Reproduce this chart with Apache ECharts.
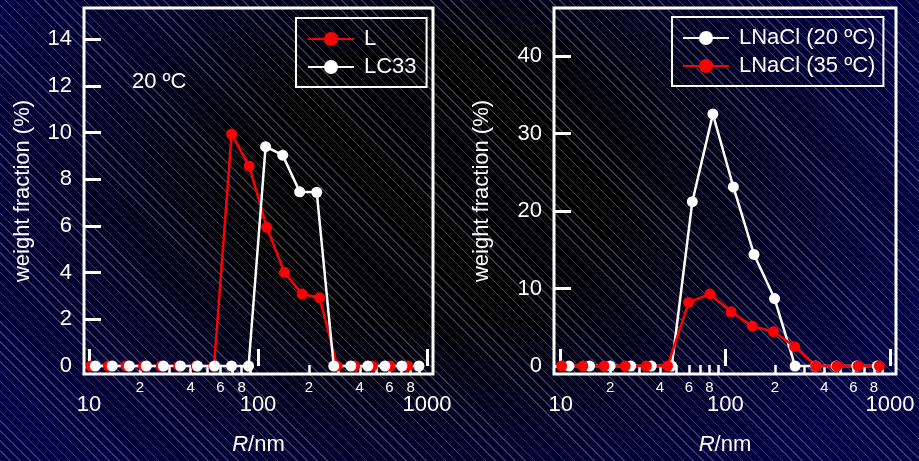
<!DOCTYPE html>
<html><head><meta charset="utf-8">
<script src="https://cdn.jsdelivr.net/npm/echarts@6/dist/echarts.min.js"></script>
<style>
html,body{margin:0;padding:0;width:919px;height:461px;overflow:hidden;}
body{background:
 repeating-linear-gradient(45deg, rgba(190,190,215,0.30) 0px, rgba(190,190,215,0.30) 1px, transparent 1px, transparent 7px),
 radial-gradient(ellipse 55% 80% at 47% 40%, #000 0%, #000 35%, #000028 70%, #000044 100%);}
#c{width:919px;height:461px;}
</style></head>
<body><div id="c"></div>
<script>
// ---- data (R in nm, weight fraction in %) ----
const rL    = [10.25,13.02,16.56,21.04,26.75,34.00,43.21,54.92,69.80,88.72,112.7,143.3,182.2,231.5,294.3,374.0,475.4,604.2,767.9];
const wL    = [0,0,0,0,0,0,0,0,9.93,8.56,5.94,4.01,3.08,2.92,0,0,0,0,0];
const rLC33 = [10.89,13.73,17.32,21.85,27.56,34.75,43.84,55.28,69.72,87.96,110.9,139.9,176.4,222.6,280.7,354.0,446.5,563.2,710.3,896.0];
const wLC33 = [0,0,0,0,0,0,0,0,0,0,9.39,9.03,7.46,7.44,0,0,0,0,0,0];
const r20   = [11.23,14.97,19.95,26.60,35.46,47.27,63.01,84.01,111.9,149.3,199.0,265.3,353.6,471.5,628.4,837.6];
const w20   = [0,0,0,0,0,0,21.2,32.5,23.1,14.4,8.7,0,0,0,0,0];
const r35   = [10.14,13.63,18.33,24.65,33.14,44.57,59.93,80.59,108.3,145.7,195.9,263.4,354.2,476.3,640.4,861.0];
const w35   = [0,0,0,0,0,0,8.2,9.3,7.0,5.15,4.45,2.5,0,0,0,0];
const majorTicks  = [10,100,1000];
const minorTicks  = [20,30,40,50,60,70,80,90,200,300,400,500,600,700,800,900];
const minorLabels = [20,40,60,80,200,400,600,800];
const yTicksLeft  = [0,2,4,6,8,10,12,14];
const yTicksRight = [0,10,20,30,40];
const nameL = 'L', nameLC33 = 'LC33', name20 = 'LNaCl (20 ºC)', name35 = 'LNaCl (35 ºC)';
const annot = '20 ºC';

const FF = "'Liberation Sans', Arial, Helvetica, sans-serif";
const W = '#ffffff', RED = '#ff0000';

function pairs(r, w){ return r.map((x,i)=>[x,w[i]]); }

function xMajor(g, mn, mx){
  return {type:'log', gridIndex:g, position:'bottom', min:mn, max:mx,
    axisLine:{show:false}, splitLine:{show:false},
    axisTick:{show:true, inside:true, length:17, customValues:majorTicks, lineStyle:{color:W, width:3}},
    axisLabel:{customValues:majorTicks, color:W, fontSize:22, fontFamily:FF, margin:20,
      formatter:v=>String(Math.round(v))},
    name:'{i|R}/nm', nameLocation:'middle', nameGap:60,
    nameTextStyle:{color:W, fontSize:22, fontFamily:FF, rich:{i:{fontStyle:'italic', color:W, fontSize:22, fontFamily:FF}}}
  };
}
function xMinor(g, mn, mx){
  return {type:'log', gridIndex:g, position:'bottom', offset:0, min:mn, max:mx,
    axisLine:{show:false}, splitLine:{show:false},
    axisTick:{show:true, inside:true, length:9, customValues:minorTicks, lineStyle:{color:W, width:2.5}},
    axisLabel:{customValues:minorLabels, color:W, fontSize:15, fontFamily:FF, margin:6,
      formatter:v=>String(Math.round(v)).charAt(0)}
  };
}
function yAx(g, mn, mx, ticks, gap){
  return {type:'value', gridIndex:g, min:mn, max:mx,
    axisLine:{show:false}, splitLine:{show:false},
    axisTick:{show:true, inside:true, length:17, customValues:ticks, lineStyle:{color:W, width:3}},
    axisLabel:{customValues:ticks, color:W, fontSize:22, fontFamily:FF, margin:12},
    name:'weight fraction (%)', nameLocation:'middle', nameGap:gap,
    nameTextStyle:{color:W, fontSize:22, fontFamily:FF}
  };
}
function ser(name, data, color, xi, yi){
  return {type:'line', name, data, xAxisIndex:xi, yAxisIndex:yi,
    symbol:'circle', symbolSize:11, showSymbol:true,
    lineStyle:{color, width:2.5}, itemStyle:{color}, emphasis:{disabled:true}, animation:false};
}

const chart = echarts.init(document.getElementById('c'), null, {renderer:'canvas'});
chart.setOption({
  backgroundColor:'transparent',
  animation:false,
  grid:[
    {left:84, top:8, width:349, height:366, show:true, borderColor:W, borderWidth:3, backgroundColor:'transparent', outerBoundsMode:'none', containLabel:false},
    {left:554, top:8, width:342, height:366, show:true, borderColor:W, borderWidth:3, backgroundColor:'transparent', outerBoundsMode:'none', containLabel:false}
  ],
  xAxis:[ xMajor(0, 9.342, 1085), xMinor(0, 9.342, 1085), xMajor(1, 9.107, 1087.5), xMinor(1, 9.107, 1087.5) ],
  yAxis:[ yAx(0, -0.342, 15.33, yTicksLeft, 50), yAx(1, -1.03, 46.19, yTicksRight, 61) ],
  legend:[
    {data:[nameL, nameLC33], orient:'vertical', left:296, top:18, itemWidth:46, itemHeight:17.5, itemGap:6,
     padding:[10,10,9,11], borderColor:W, borderWidth:2, textStyle:{color:W, fontSize:22, fontFamily:FF, padding:[0,0,0,5]}, selectedMode:false},
    {data:[name20, name35], orient:'vertical', left:672, top:17, itemWidth:46, itemHeight:17.5, itemGap:6,
     padding:[10,8,9,10], borderColor:W, borderWidth:2, textStyle:{color:W, fontSize:22, fontFamily:FF, padding:[0,0,0,5]}, selectedMode:false}
  ],
  graphic:[{type:'text', left:132, top:71, style:{text:annot, fill:W, fontSize:22, fontFamily:FF}}],
  series:[
    ser(nameL, pairs(rL,wL), RED, 0, 0),
    ser(nameLC33, pairs(rLC33,wLC33), W, 0, 0),
    ser(name20, pairs(r20,w20), W, 2, 1),
    ser(name35, pairs(r35,w35), RED, 2, 1)
  ]
});
</script></body></html>
